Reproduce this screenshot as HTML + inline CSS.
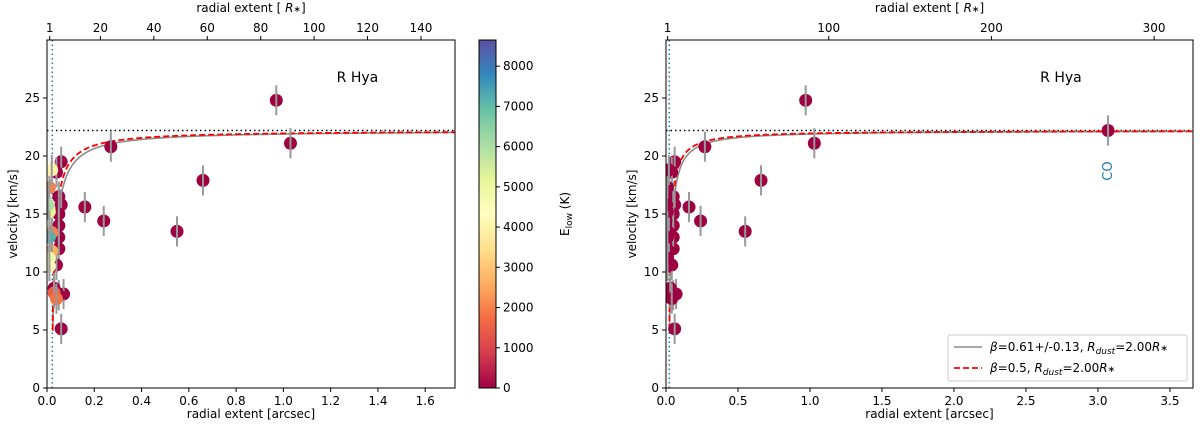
<!DOCTYPE html>
<html><head><meta charset="utf-8"><style>
body{margin:0;background:#fff}
svg{font-family:"DejaVu Sans","Liberation Sans",sans-serif;font-size:12px}
</style></head><body>
<svg id="fig" width="1200" height="430" viewBox="0 0 1200 430">
<defs>
<linearGradient id="cmap" x1="0" y1="1" x2="0" y2="0">
<stop offset="0" stop-color="#9e0142"/><stop offset="0.1" stop-color="#d53e4f"/><stop offset="0.2" stop-color="#f46d43"/><stop offset="0.3" stop-color="#fdae61"/><stop offset="0.4" stop-color="#fee08b"/><stop offset="0.5" stop-color="#ffffbf"/><stop offset="0.6" stop-color="#e6f598"/><stop offset="0.7" stop-color="#abdda4"/><stop offset="0.8" stop-color="#66c2a5"/><stop offset="0.9" stop-color="#3288bd"/><stop offset="1" stop-color="#5e4fa2"/>
</linearGradient>
<clipPath id="clipL"><rect x="47" y="40" width="408" height="348"/></clipPath>
<clipPath id="clipR"><rect x="666" y="40" width="527" height="348"/></clipPath>
</defs>
</svg>
<script>
// data (arcsec, km/s, E_low K)
const pointsX = [0.97,1.03,0.27,0.16,0.24,0.55,0.66,0.06,0.04,0.05,0.06,0.05,0.05,0.05,0.05,0.04,0.07,0.05,0.03,0.06,0.01,0.005,0.01,0.02,0.01,0.02,0.01,0.01,0.03,0.04,0.02];
const pointsV = [24.8,21.1,20.8,15.6,14.4,13.5,17.9,19.5,18.6,16.5,15.8,15.0,14.0,13.0,12.0,10.6,8.1,8.0,8.6,5.1,17.3,15.8,15.2,13.4,13.0,11.8,11.2,10.5,8.2,7.7,18.8];
const pointsE = [0,0,0,0,0,0,0,0,0,0,0,0,0,0,0,0,0,0,0,0,2000,6000,5200,2000,7200,2600,4800,4200,1500,1800,4000];
const pointsErr = [1.3,1.3,1.3,1.3,1.3,1.3,1.3,1.3,1.3,1.3,1.3,1.3,1.3,1.3,1.3,1.3,1.3,1.3,1.3,1.3,1.3,1.3,1.3,1.3,1.3,1.3,1.3,1.3,1.3,1.3,1.3];
const coX = [3.07], coV = [22.2];
const yTicks = [0,5,10,15,20,25];
const xTicksL = [0,0.2,0.4,0.6,0.8,1.0,1.2,1.4,1.6];
const xTicksR = [0,0.5,1.0,1.5,2.0,2.5,3.0,3.5];
const topTicksL = [1,20,40,60,80,100,120,140];
const topTicksR = [1,100,200,300];
const cbTicks = [0,1000,2000,3000,4000,5000,6000,7000,8000];
const vInf = [22.2], betaFit = [0.61], betaRef = [0.5], rDust = [2.0];
const arcPerRstar = 0.0113;

const NS="http://www.w3.org/2000/svg", svg=document.getElementById('fig');
function el(t,a,p){const e=document.createElementNS(NS,t);for(const k in a)e.setAttribute(k,a[k]);(p||svg).appendChild(e);return e;}
function txt(s,a,p){const e=el('text',a,p);e.textContent=s;return e;}
const cmapStops=[[158,1,66],[213,62,79],[244,109,67],[253,174,97],[254,224,139],[255,255,191],[230,245,152],[171,221,164],[102,194,165],[50,136,189],[94,79,162]];
const eMax=8650;
function cmap(E){let t=Math.max(0,Math.min(1,E/eMax))*10;let i=Math.min(9,Math.floor(t)),f=t-i;const a=cmapStops[i],b=cmapStops[i+1];return `rgb(${a.map((v,k)=>Math.round(v+(b[k]-v)*f)).join(',')})`;}

const Y0=388,Y1=40,yMax=30;
const ys=v=>Y0-(v/yMax)*(Y0-Y1);

function panel(side,L,R,xMax,xTicks,topTicks,clip){
  const xs=a=>L+a/xMax*(R-L);
  const g=el('g',{});
  
  
  const gc=el('g',{'clip-path':`url(#${clip})`},g);
  const hl=el('line',{x1:L,x2:R,y1:ys(vInf[0]),y2:ys(vInf[0]),stroke:'#000','stroke-width':1.5,'stroke-dasharray':'1.5,3'},gc);
  
  
  const vl=el('line',{x1:xs(rDust[0]*arcPerRstar),x2:xs(rDust[0]*arcPerRstar),y1:Y1,y2:Y0,stroke:'#1f77b4','stroke-width':1.5,'stroke-dasharray':'1.5,3'},gc);
  
  
  function curve(beta,color,dash,w,name){
    let d='';const r0=rDust[0];
    d+=`M${xs(r0*arcPerRstar)},${ys(5)} `;
    for(let i=0;i<=400;i++){const a=r0*arcPerRstar+Math.pow(i/400,2.5)*xMax;const r=a/arcPerRstar;let v=vInf[0]*Math.pow(Math.max(0,1-r0/r),beta);v=Math.max(v,5);d+=`L${xs(a).toFixed(2)},${ys(v).toFixed(2)} `;}
    const p=el('path',{d,fill:'none',stroke:color,'stroke-width':w,'stroke-dasharray':dash},gc);
    
    
  }
  curve(betaFit[0],'#8c8c8c','none',1.6,'beta-fit-curve');
  curve(betaRef[0],'#ff0000','6,3',1.8,'beta-0.5-curve');
  const gp=el('g',{'clip-path':`url(#${clip})`},g);
  const order=pointsX.map((_,i)=>i).sort((a,b)=>pointsE[a]-pointsE[b]);
  for(const i of order){
    const c=el('circle',{cx:xs(pointsX[i]),cy:ys(pointsV[i]),r:6.5,fill:side==='left'?cmap(pointsE[i]):'#9e0142'},gp);
    
    
    const e=el('line',{x1:xs(pointsX[i]),x2:xs(pointsX[i]),y1:ys(pointsV[i]-pointsErr[i]),y2:ys(pointsV[i]+pointsErr[i]),stroke:'#999','stroke-width':2},gp);
    
    
  }
  if(side==='right'){
    for(let i=0;i<coX.length;i++){
      const c=el('circle',{cx:xs(coX[i]),cy:ys(coV[i]),r:6.5,fill:'#9e0142'},gp);
      
      
      const e=el('line',{x1:xs(coX[i]),x2:xs(coX[i]),y1:ys(coV[i]-1.3),y2:ys(coV[i]+1.3),stroke:'#999','stroke-width':2},gp);
      
      
      const cx=xs(coX[i])+4, cy=ys(coV[i]-3.5);
      const t=txt('CO',{x:cx,y:cy,fill:'#1f77b4','font-size':13,'text-anchor':'middle',transform:`rotate(-90 ${cx} ${cy})`},g);
      
      
    }
  }
  const fr=el('rect',{x:L,y:Y1,width:R-L,height:Y0-Y1,fill:'none',stroke:'#000','stroke-width':1},g);
  
  
  for(const v of yTicks){el('line',{x1:L-4,x2:L,y1:ys(v),y2:ys(v),stroke:'#000'},g);
    const t=txt(v,{x:L-7,y:ys(v)+4,'text-anchor':'end'},g);
    
    }
  for(const v of xTicks){el('line',{x1:xs(v),x2:xs(v),y1:Y0,y2:Y0+4,stroke:'#000'},g);
    const t=txt(v.toFixed(1),{x:xs(v),y:Y0+17,'text-anchor':'middle'},g);
    
    }
  for(const v of topTicks){const px=xs(v*arcPerRstar);el('line',{x1:px,x2:px,y1:Y1-4,y2:Y1,stroke:'#000'},g);
    const t=txt(v,{x:px,y:Y1-8,'text-anchor':'middle'},g);
    
    }
  const xl=txt('radial extent [arcsec]',{x:(L+R)/2,y:418,'text-anchor':'middle'},g);
  
  
  const tl=el('text',{x:(L+R)/2,y:12,'text-anchor':'middle'},g);
  tl.innerHTML='radial extent [ <tspan font-style="italic">R</tspan><tspan font-size="9">∗</tspan>]';
  
  
  const yl=txt('velocity [km/s]',{x:L-30,y:(Y0+Y1)/2,'text-anchor':'middle',transform:`rotate(-90 ${L-30} ${(Y0+Y1)/2})`},g);
  
  
  const st=txt('R Hya',{x:L+(R-L)*0.71,y:82,'font-size':14},g);
  
  
}
panel('left',47,455,1.726,xTicksL,topTicksL,'clipL');
panel('right',666,1193,3.66,xTicksR,topTicksR,'clipR');

const cb=el('g',{});


el('rect',{x:479,y:Y1,width:17,height:Y0-Y1,fill:'url(#cmap)',stroke:'#000','stroke-width':1},cb);
for(const v of cbTicks){const py=Y0-v/eMax*(Y0-Y1);el('line',{x1:496,x2:500,y1:py,y2:py,stroke:'#000'},cb);
  const t=txt(v,{x:503,y:py+4},cb);
  
  }
const cl=el('text',{x:569,y:214,'text-anchor':'middle',transform:'rotate(-90 569 214)'},cb);
cl.innerHTML='E<tspan font-size="9" dy="3">low</tspan><tspan dy="-3"> (K)</tspan>';



const lg=el('g',{});


el('rect',{x:948,y:335,width:239,height:46,fill:'#fff',stroke:'#ccc',rx:2},lg);
el('line',{x1:954,x2:982,y1:347,y2:347,stroke:'#8c8c8c','stroke-width':1.6},lg);
el('line',{x1:954,x2:982,y1:368,y2:368,stroke:'#f00','stroke-width':1.8,'stroke-dasharray':'6,3'},lg);
const l1=el('text',{x:990,y:351},lg);
l1.innerHTML='<tspan font-style="italic">β</tspan>=0.61+/-0.13, <tspan font-style="italic">R</tspan><tspan font-size="9" font-style="italic" dy="3">dust</tspan><tspan dy="-3">=2.00</tspan><tspan font-style="italic">R</tspan><tspan font-size="9">∗</tspan>';


const l2=el('text',{x:990,y:372},lg);
l2.innerHTML='<tspan font-style="italic">β</tspan>=0.5, <tspan font-style="italic">R</tspan><tspan font-size="9" font-style="italic" dy="3">dust</tspan><tspan dy="-3">=2.00</tspan><tspan font-style="italic">R</tspan><tspan font-size="9">∗</tspan>';


</script>
</body></html>
